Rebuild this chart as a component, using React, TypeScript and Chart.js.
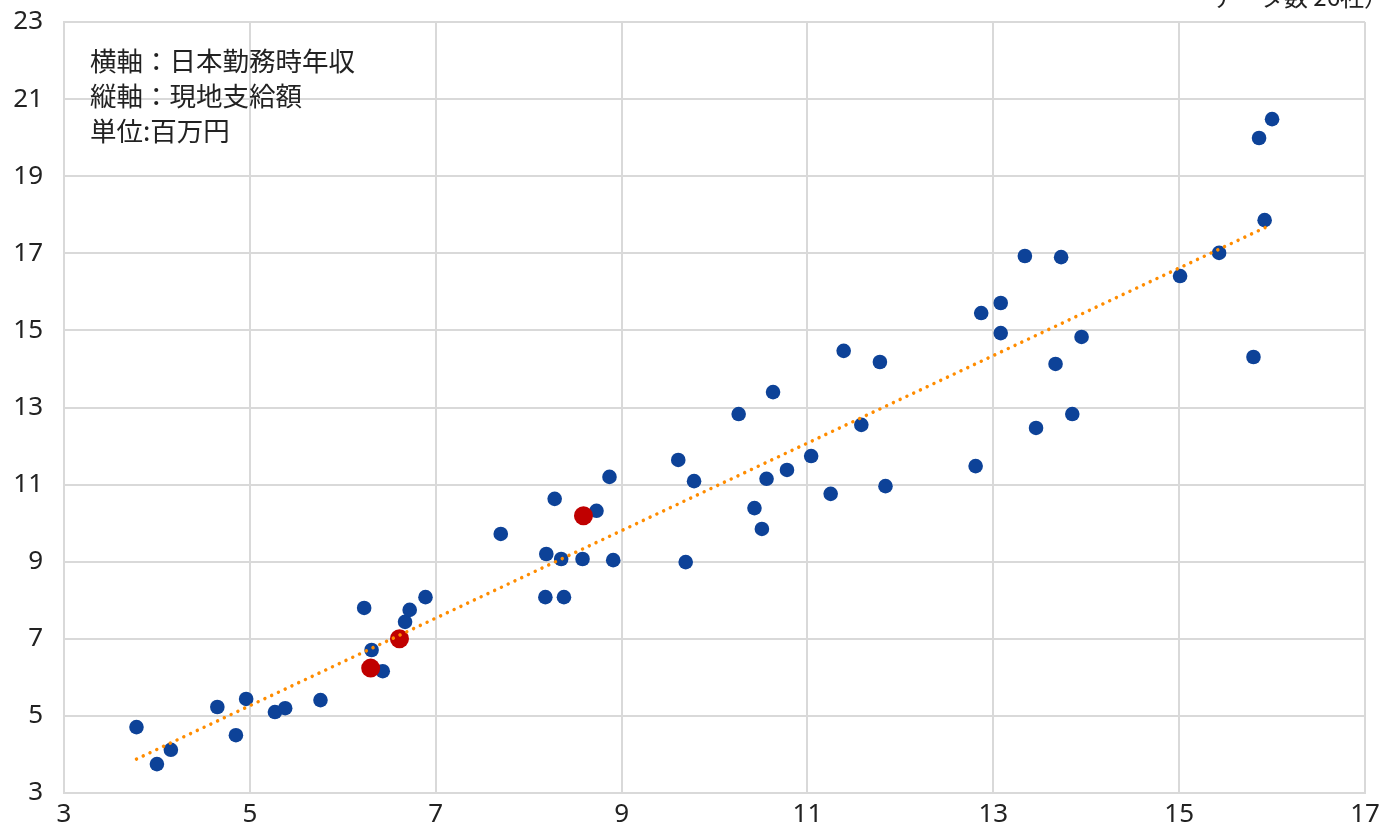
import React, { useEffect, useRef } from "react";
import { Chart, registerables } from "chart.js";

Chart.register(...registerables);

// 日本勤務時年収 (x) vs 現地支給額 (y), 単位: 百万円
const blueX = [3.78, 4.0, 4.15, 4.65, 4.85, 4.96, 5.27, 5.38, 5.76, 6.23, 6.31, 6.43, 6.67, 6.72, 6.89,
  7.7, 8.18, 8.19, 8.28, 8.35, 8.38, 8.58, 8.73, 8.87, 8.91, 9.61, 9.69, 9.78,
  10.26, 10.43, 10.51, 10.56, 10.63, 10.78, 11.04, 11.25, 11.39, 11.58, 11.78, 11.84,
  12.81, 12.87, 13.08, 13.08, 13.34, 13.46, 13.67, 13.73, 13.85, 13.95,
  15.01, 15.43, 15.8, 15.86, 15.92, 16.0];
const blueY = [4.71, 3.75, 4.12, 5.23, 4.5, 5.44, 5.1, 5.2, 5.41, 7.8, 6.71, 6.16, 7.44, 7.75, 8.08,
  9.72, 8.08, 9.2, 10.63, 9.07, 8.08, 9.07, 10.32, 11.2, 9.04, 11.64, 8.99, 11.09,
  12.83, 10.39, 9.85, 11.15, 13.4, 11.38, 11.74, 10.76, 14.47, 12.55, 14.18, 10.96,
  11.48, 15.45, 15.71, 14.93, 16.93, 12.47, 14.13, 16.9, 12.83, 14.83,
  16.41, 17.01, 14.31, 19.99, 17.86, 20.48];
const redX = [6.3, 6.61, 8.59];
const redY = [6.24, 7.0, 10.19];
const trendX = [3.78, 15.98];
const trendY = [3.88, 17.73];

const xTicks = [3, 5, 7, 9, 11, 13, 15, 17];
const yTicks = [3, 5, 7, 9, 11, 13, 15, 17, 19, 21, 23];

const noteLines = ["横軸：日本勤務時年収", "縦軸：現地支給額", "単位:百万円"];
const cornerNote = "データ数 26社）";

const toPts = (xs: number[], ys: number[]) => xs.map((x, i) => ({ x, y: ys[i] }));

export default function App() {
  const ref = useRef<HTMLCanvasElement | null>(null);

  useEffect(() => {
    document.body.style.margin = "0";
    const ctx = ref.current!.getContext("2d")!;
    const tickFont = { family: "'Noto Sans', sans-serif", size: 26 };
    const chart = new Chart(ctx, {
      type: "scatter",
      data: {
        datasets: [
          {
            type: "line",
            data: toPts(trendX, trendY),
            borderColor: "#FF8C00",
            borderWidth: 3.5,
            borderDash: [0.01, 7.46],
            borderCapStyle: "round",
            pointRadius: 0,
            fill: false,
            showLine: true,
          } as any,
          {
            data: toPts(redX, redY),
            backgroundColor: "#C00000",
            borderColor: "#C00000",
            borderWidth: 0,
            pointRadius: 9.5,
          },
          {
            data: toPts(blueX, blueY),
            backgroundColor: "#0D4298",
            borderColor: "#0D4298",
            borderWidth: 0,
            pointRadius: 7.3,
          },
        ],
      },
      options: {
        animation: false,
        responsive: false,
        layout: { padding: { top: 22, right: 19, left: 0, bottom: 0 } },
        plugins: { legend: { display: false }, tooltip: { enabled: false } },
        scales: {
          x: {
            type: "linear",
            min: 3,
            max: 17,
            afterBuildTicks: (s: any) => { s.ticks = xTicks.map((v) => ({ value: v })); },
            afterFit: (s: any) => {
              s.height = 36;
              s.paddingLeft = 0;
              s.paddingRight = 0;
              s.paddingTop = 0;
              s.paddingBottom = 0;
            },
            grid: { color: "#D9D9D9", lineWidth: 2, drawTicks: false },
            border: { color: "#D9D9D9", width: 2 },
            ticks: { color: "#222", font: tickFont, padding: 6, maxRotation: 0 },
          },
          y: {
            type: "linear",
            min: 3,
            max: 23,
            afterBuildTicks: (s: any) => { s.ticks = yTicks.map((v) => ({ value: v })); },
            afterFit: (s: any) => {
              s.width = 64;
              s.paddingLeft = 0;
              s.paddingRight = 0;
              s.paddingTop = 0;
              s.paddingBottom = 0;
            },
            grid: { color: "#D9D9D9", lineWidth: 2, drawTicks: false },
            border: { color: "#D9D9D9", width: 2 },
            ticks: { color: "#222", font: tickFont, padding: 21 },
          },
        },
      },
    });
    return () => chart.destroy();
  }, []);

  return (
    <div style={{ position: "fixed", left: 0, top: 0, width: 1384, height: 829, overflow: "hidden", background: "#fff" }}>
      <canvas ref={ref} width={1384} height={829} style={{ display: "block", width: 1384, height: 829 }} />
      <div
        style={{
          position: "absolute",
          left: 90,
          top: 42,
          fontFamily: "'Noto Sans CJK JP', sans-serif",
          fontSize: 26.5,
          lineHeight: "35px",
          color: "#222",
          pointerEvents: "none",
        }}
      >
        {noteLines.map((t, i) => (
          <div key={i}>{t}</div>
        ))}
      </div>
      <div
        style={{
          position: "absolute",
          right: -4,
          top: -16,
          fontFamily: "'Noto Sans CJK JP', sans-serif",
          fontSize: 24,
          lineHeight: "24px",
          color: "#222",
          whiteSpace: "nowrap",
        }}
      >
        {cornerNote}
      </div>
    </div>
  );
}
